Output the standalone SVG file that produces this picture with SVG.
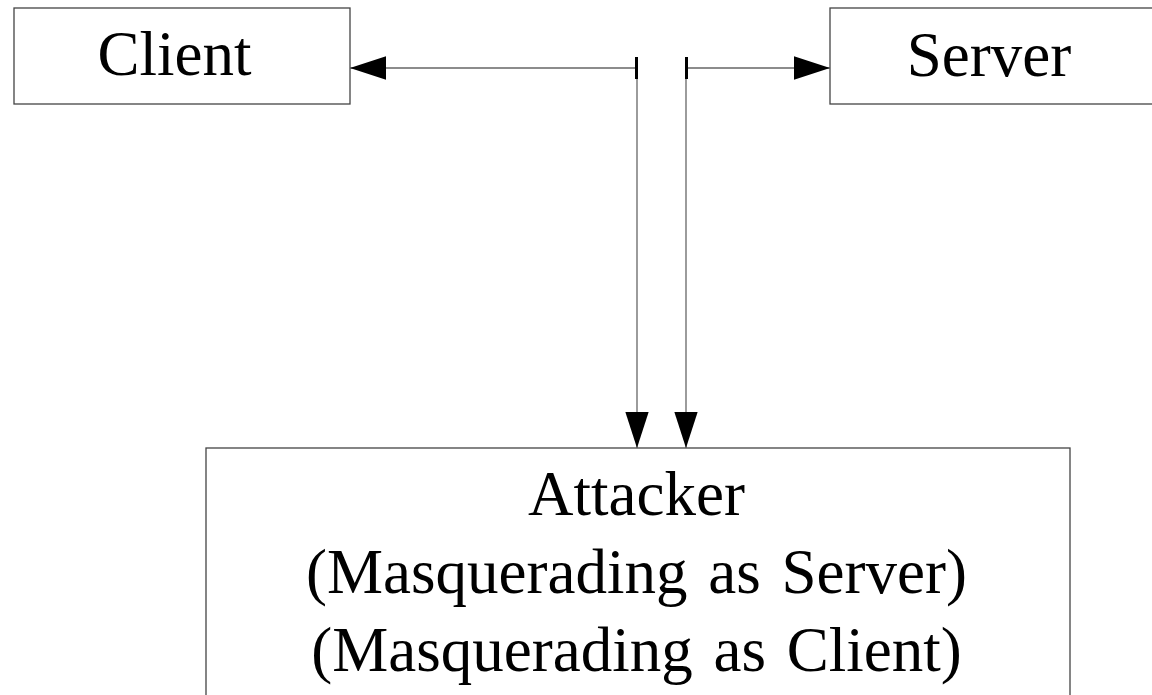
<svg xmlns="http://www.w3.org/2000/svg" width="1152" height="695" viewBox="0 0 1152 695">
<style>
.box{fill:#fff;stroke:#444;stroke-width:1.3}
.lbl{font-family:"Liberation Serif","Times New Roman",serif;font-size:63px;fill:#000;text-anchor:middle}
.wide{word-spacing:5px}
.wire{fill:none;stroke:#666;stroke-width:1.3}
.tick{stroke:#000;stroke-width:3}
</style>
<defs>
<marker id="ah" markerUnits="userSpaceOnUse" markerWidth="36" markerHeight="24" viewBox="0 0 34 22" refX="34" refY="11" orient="auto">
<path d="M0,0 L34,11 L0,22 Z" fill="#000"/>
</marker>
</defs>
<rect width="1152" height="695" fill="#fff"/>
<g id="client">
<rect class="box" x="14" y="8" width="336" height="96"/>
<text class="lbl" x="174.5" y="74.5">Client</text>
</g>
<g id="server">
<rect class="box" x="830" y="8" width="340" height="96"/>
<text class="lbl" x="989" y="75.5">Server</text>
</g>
<g id="attacker">
<rect class="box" x="206" y="448" width="864" height="260"/>
<text class="lbl" x="636.5" y="515">Attacker</text>
<text class="lbl wide" x="636.5" y="593">(Masquerading as Server)</text>
<text class="lbl wide" x="636.5" y="671">(Masquerading as Client)</text>
</g>
<g id="connectors">
<path class="wire" d="M637,68 L350,68" marker-end="url(#ah)"/>
<path class="wire" d="M637,68 L637,448" marker-end="url(#ah)"/>
<path class="wire" d="M686,68 L830,68" marker-end="url(#ah)"/>
<path class="wire" d="M686,68 L686,448" marker-end="url(#ah)"/>
<line class="tick" x1="636.5" y1="57" x2="636.5" y2="79"/>
<line class="tick" x1="686.5" y1="57" x2="686.5" y2="79"/>
</g>
</svg>
